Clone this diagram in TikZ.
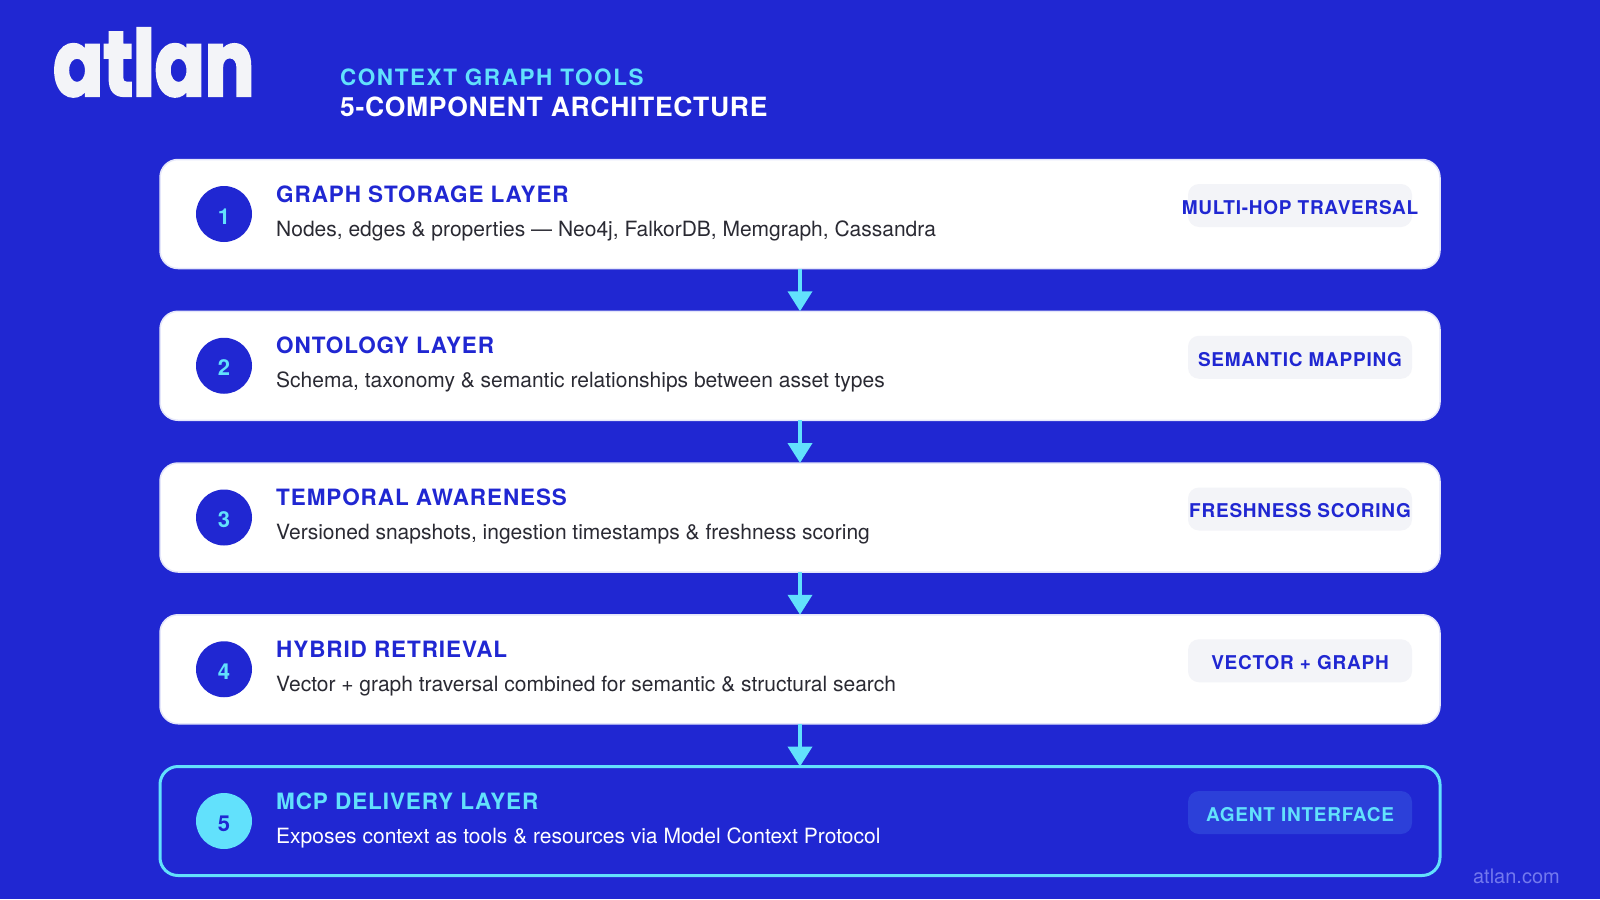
\documentclass[tikz,border=0pt]{standalone}
\usepackage{fontspec}
\setmainfont{TeX Gyre Heros}
\newfontfamily\spacedfont[LetterSpace=4]{TeX Gyre Heros}
\newfontfamily\kickerfont[LetterSpace=7]{TeX Gyre Heros}
\newfontfamily\headingfont[LetterSpace=2.6]{TeX Gyre Heros}
\newfontfamily\logofont[FakeBold=2.5,FakeStretch=0.8]{Poppins}
\usetikzlibrary{arrows.meta}

\definecolor{atlanblue}{HTML}{2027D2}
\definecolor{atlancyan}{HTML}{62E1FC}
\definecolor{cardedge}{HTML}{E4E6FA}
\definecolor{tagfill}{HTML}{F3F4F8}
\definecolor{tagfillb}{HTML}{2C40D9}
\definecolor{desctext}{HTML}{2A2A33}
\definecolor{sitetext}{HTML}{7379EE}

\begin{document}
\begin{tikzpicture}[x=1pt,y=-1pt]
    \tikzset{
        cardbox/.style={
            rectangle,draw=cardedge,fill=white,line width=1.5pt,
            rounded corners=18pt,minimum width=1280pt,minimum height=109pt,
            inner sep=0pt,outer sep=0pt
        },
        lastcard/.style={cardbox,draw=atlancyan,fill=atlanblue,line width=3pt},
        numdot/.style={
            circle,fill=atlanblue,text=atlancyan,minimum size=56pt,inner sep=0pt,
            text height=20pt,text depth=0pt,
            font=\bfseries\fontsize{22}{26}\selectfont
        },
        lastdot/.style={numdot,fill=atlancyan,text=atlanblue},
        cardtitle/.style={
            anchor=base west,inner sep=0pt,text=atlanblue,
            font=\spacedfont\bfseries\fontsize{22.5}{26}\selectfont
        },
        carddesc/.style={
            anchor=base west,inner sep=0pt,text=desctext,
            font=\fontsize{21}{26}\selectfont
        },
        tagbox/.style={
            rectangle,fill=tagfill,text=atlanblue,rounded corners=11pt,
            minimum width=224pt,minimum height=43pt,inner sep=0pt,
            text height=17.5pt,text depth=0pt,
            font=\spacedfont\bfseries\fontsize{19}{24}\selectfont
        },
        flowarrow/.style={
            draw=atlancyan,line width=4pt,
            -{Triangle[width=24pt,length=20pt,fill=atlancyan]}
        }
    }

    \useasboundingbox[fill=atlanblue] (0,0) rectangle (1600,899);

    \node[anchor=base west,inner sep=0pt,text=tagfill,font=\logofont\bfseries\fontsize{92}{92}\selectfont] (logo) at (53,96) {atlan};
    \node[anchor=base west,inner sep=0pt,text=atlancyan,font=\kickerfont\bfseries\fontsize{22.5}{26}\selectfont] (kicker) at (340,85) {CONTEXT GRAPH TOOLS};
    \node[anchor=base west,inner sep=0pt,text=white,font=\headingfont\bfseries\fontsize{26.5}{30}\selectfont] (heading) at (340,116) {5-COMPONENT ARCHITECTURE};

    \node[cardbox] (card1) at (800,214) {};
    \node[numdot] (num1) at ([xshift=64pt] card1.west) {1};
    \node[cardtitle] (title1) at ([xshift=116pt,yshift=12pt] card1.west) {GRAPH STORAGE LAYER};
    \node[carddesc] (desc1) at ([xshift=116pt,yshift=-22pt] card1.west) {Nodes, edges \& properties — Neo4j, FalkorDB, Memgraph, Cassandra};
    \node[tagbox] (tag1) at ([xshift=-140pt,yshift=8.5pt] card1.east) {\makebox[0pt]{MULTI-HOP TRAVERSAL}};

    \node[cardbox] (card2) at (800,365.75) {};
    \node[numdot] (num2) at ([xshift=64pt] card2.west) {2};
    \node[cardtitle] (title2) at ([xshift=116pt,yshift=12pt] card2.west) {ONTOLOGY LAYER};
    \node[carddesc] (desc2) at ([xshift=116pt,yshift=-22pt] card2.west) {Schema, taxonomy \& semantic relationships between asset types};
    \node[tagbox] (tag2) at ([xshift=-140pt,yshift=8.5pt] card2.east) {SEMANTIC MAPPING};

    \node[cardbox] (card3) at (800,517.5) {};
    \node[numdot] (num3) at ([xshift=64pt] card3.west) {3};
    \node[cardtitle] (title3) at ([xshift=116pt,yshift=12pt] card3.west) {TEMPORAL AWARENESS};
    \node[carddesc] (desc3) at ([xshift=116pt,yshift=-22pt] card3.west) {Versioned snapshots, ingestion timestamps \& freshness scoring};
    \node[tagbox] (tag3) at ([xshift=-140pt,yshift=8.5pt] card3.east) {FRESHNESS SCORING};

    \node[cardbox] (card4) at (800,669.25) {};
    \node[numdot] (num4) at ([xshift=64pt] card4.west) {4};
    \node[cardtitle] (title4) at ([xshift=116pt,yshift=12pt] card4.west) {HYBRID RETRIEVAL};
    \node[carddesc] (desc4) at ([xshift=116pt,yshift=-22pt] card4.west) {Vector + graph traversal combined for semantic \& structural search};
    \node[tagbox] (tag4) at ([xshift=-140pt,yshift=8.5pt] card4.east) {VECTOR + GRAPH};

    \node[lastcard] (card5) at (800,821) {};
    \node[lastdot] (num5) at ([xshift=64pt] card5.west) {5};
    \node[cardtitle,text=atlancyan] (title5) at ([xshift=116pt,yshift=12pt] card5.west) {MCP DELIVERY LAYER};
    \node[carddesc,text=white] (desc5) at ([xshift=116pt,yshift=-22pt] card5.west) {Exposes context as tools \& resources via Model Context Protocol};
    \node[tagbox,fill=tagfillb,text=atlancyan] (tag5) at ([xshift=-140pt,yshift=8.5pt] card5.east) {AGENT INTERFACE};

    \node[anchor=base east,inner sep=0pt,text=sitetext,font=\fontsize{20}{24}\selectfont] (site) at (1560,883) {atlan.com};

    \draw[flowarrow] (card1.south) -- (card2.north);
    \draw[flowarrow] (card2.south) -- (card3.north);
    \draw[flowarrow] (card3.south) -- (card4.north);
    \draw[flowarrow] (card4.south) -- (card5.north);
\end{tikzpicture}
\end{document}
